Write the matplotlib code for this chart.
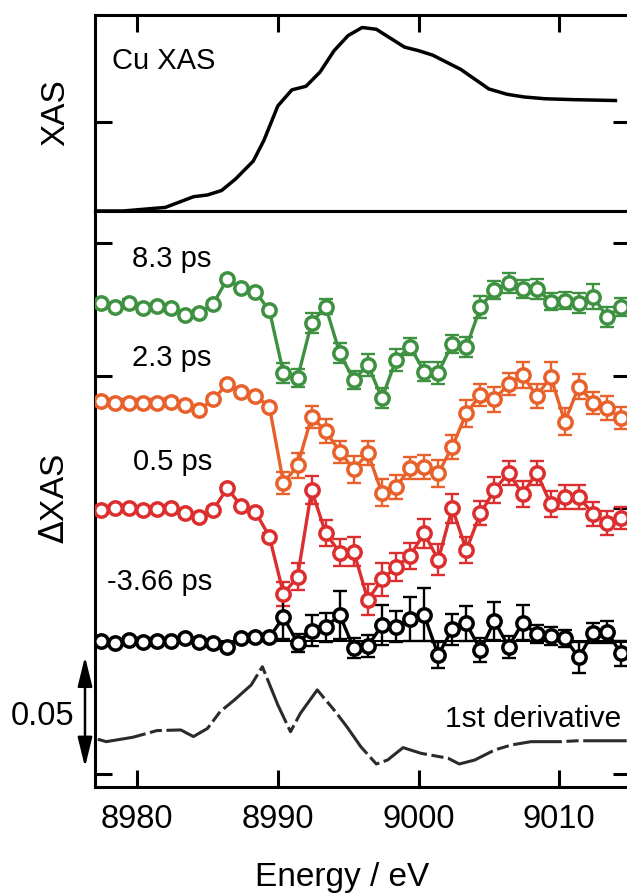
import matplotlib
matplotlib.use('Agg')
import matplotlib.pyplot as plt
from matplotlib.ticker import NullFormatter

plt.rcParams['font.family'] = ['Liberation Sans', 'DejaVu Sans']

# static Cu K-edge spectrum (arb. units)
xas_energy = [8977, 8979, 8982, 8984, 8985, 8986, 8987, 8988.25, 8989, 8990,
              8991, 8992, 8993, 8994, 8995, 8996, 8997, 8998, 8999, 9000,
              9001, 9002, 9003, 9004, 9005, 9006.3, 9007.5, 9009, 9011, 9014]
xas = [0.0, 0.0, 0.04, 0.16, 0.18, 0.23, 0.36, 0.56, 0.79, 1.18,
       1.36, 1.40, 1.56, 1.80, 1.97, 2.06, 2.04, 1.94, 1.84, 1.80,
       1.75, 1.67, 1.59, 1.48, 1.37, 1.31, 1.28, 1.26, 1.25, 1.24]

# transient energy grid (eV)
energy = [8977.4, 8978.4, 8979.4, 8980.4, 8981.4, 8982.4, 8983.4, 8984.4,
          8985.4, 8986.4, 8987.4, 8988.4, 8989.4, 8990.4, 8991.4, 8992.4,
          8993.4, 8994.4, 8995.4, 8996.4, 8997.4, 8998.4, 8999.4, 9000.4,
          9001.4, 9002.4, 9003.4, 9004.4, 9005.4, 9006.4, 9007.4, 9008.4,
          9009.4, 9010.4, 9011.4, 9012.4, 9013.4, 9014.4]

# delta XAS (x 1e-3), relative to each trace's offset
d_83 = [0.0, -1.8, 0.3, -2.3, -1.2, -2.3, -5.3, -4.5, -0.3, 10.9,
        6.8, 5.2, -3.3, -31.7, -33.9, -8.8, -1.5, -22.6, -34.7, -27.9,
        -43.0, -25.6, -19.6, -30.9, -31.4, -18.4, -19.9, -1.8, 6.0, 9.3,
        6.5, 6.5, 0.7, 1.2, 0.0, 3.0, -6.1, -1.8]
d_23 = [0.0, -0.9, -0.9, -0.9, -0.9, -0.5, -1.9, -4.2, 0.6, 7.5,
        4.0, 2.2, -2.7, -37.3, -29.3, -7.4, -13.7, -23.0, -31.0, -23.8,
        -41.6, -38.9, -30.6, -29.9, -32.9, -20.8, -5.7, 2.6, 0.6, 7.5,
        11.6, 2.1, 10.8, -9.5, 6.4, -0.9, -3.4, -7.9]
d_05 = [0.0, 0.8, 0.8, 0.0, 0.3, 0.8, -1.5, -3.0, 0.0, 9.8,
        1.8, -0.8, -12.1, -38.0, -30.2, 9.0, -10.5, -19.3, -18.9, -40.7,
        -31.4, -25.8, -20.8, -10.5, -22.6, 0.8, -18.1, -1.5, 9.0, 16.8,
        7.2, 16.8, 2.7, 6.0, 6.0, -1.8, -6.0, -3.8]
d_m366 = [0.1, -0.8, 0.5, -0.3, 0.1, 0.1, 1.2, -0.3, -1.0, -2.6,
          1.2, 1.7, 1.7, 10.8, -0.8, 4.7, 6.2, 11.8, -3.3, -2.3,
          7.2, 6.4, 9.8, 11.8, -6.3, 5.3, 8.0, -4.1, 9.1, -2.6,
          8.3, 3.2, 2.3, 1.2, -7.4, 3.8, 4.2, -5.6]

e_83 = [1.5] * 13 + [4.5, 4.0, 4.5, 3.5, 4.5, 4.0, 5.0, 4.5, 5.0, 4.0, 4.5,
                     5.0, 4.0, 4.5, 5.0, 4.0, 4.5, 4.0, 4.5, 4.0, 4.0, 4.5,
                     5.5, 4.5, 4.0]
e_23 = [1.5] * 13 + [5.0, 5.5, 5.0, 5.5, 5.0, 6.0, 5.5, 6.0, 5.5, 5.0, 5.5,
                     6.0, 5.5, 6.0, 5.0, 5.5, 5.0, 6.0, 5.5, 6.5, 6.0, 5.5,
                     5.0, 5.5, 5.0]
e_05 = [1.5] * 13 + [5.5, 6.0, 6.5, 6.0, 6.0, 6.5, 7.0, 7.5, 6.5, 6.0, 6.5,
                     7.0, 6.5, 6.0, 5.5, 6.0, 5.5, 6.0, 5.5, 6.0, 5.5, 5.5,
                     5.5, 5.5, 5.0]
e_m366 = [1.5] * 13 + [10.0, 4.0, 7.0, 6.5, 11.0, 4.5, 5.0, 9.0, 7.0, 10.0,
                       12.0, 6.0, 7.0, 8.0, 5.5, 8.5, 5.0, 8.0, 4.0, 4.0,
                       4.0, 7.0, 4.5, 5.0, 5.5]

delays = ['8.3 ps', '2.3 ps', '0.5 ps', '-3.66 ps']
offsets = [212.8, 168.7, 119.3, 60.0]
colors = ['#3d9140', '#e8602a', '#dc2e2e', 'black']

# first derivative of the static spectrum (scaled, x 1e-3)
deriv_energy = [8977.2, 8977.8, 8979.7, 8981.4, 8983.1, 8984.0, 8985.0, 8985.9,
                8986.9, 8988.1, 8988.9, 8990.0, 8990.9, 8991.6, 8992.8, 8994.0,
                8994.9, 8995.9, 8997.0, 8997.8, 8998.9, 9000.2, 9002.1, 9002.9,
                9004.0, 9005.4, 9006.6, 9008.0, 9010.1, 9011.3, 9014.8]
deriv = [0.6, -0.5, 1.5, 4.5, 4.8, 1.8, 5.5, 13.1, 18.3, 25.1, 33.4, 16.1,
         4.0, 12.3, 22.9, 13.8, 6.3, -2.8, -10.6, -8.8, -3.2, -5.8, -8.0,
         -10.6, -8.8, -4.3, -2.0, -0.5, -0.5, -0.1, -0.1]
deriv_offset = 15.0

fig = plt.figure(figsize=(6.27, 8.94), dpi=100)
ax1 = fig.add_axes([0.1515, 0.764, 0.8525, 0.2192])
ax2 = fig.add_axes([0.1515, 0.1197, 0.8525, 0.6443], sharex=ax1)

for ax in (ax1, ax2):
    for sp in ax.spines.values():
        sp.set_linewidth(2.2)
    ax.tick_params(direction='in', length=12, width=2.2, labelsize=23.5, pad=12)

# top panel
ax1.plot(xas_energy, xas, color='black', lw=2.5)
ax1.set_ylim(0, 2.2)
ax1.set_yticks([1.0])
ax1.yaxis.set_major_formatter(NullFormatter())
ax1.tick_params(axis='x', bottom=False, top=True, labelbottom=False)
ax1.tick_params(axis='y', left=True, right=True)
ax1.set_ylabel('XAS', fontsize=24)
ax1.yaxis.set_label_coords(-0.045, 0.5)
ax1.text(0.032, 0.727, 'Cu XAS', transform=ax1.transAxes, fontsize=21,
         ha='left', va='baseline')

# bottom panel
traces = [d_83, d_23, d_05, d_m366]
errs = [e_83, e_23, e_05, e_m366]
ax2.axhline(offsets[3], color='black', lw=1.5, zorder=1)
for vals, err, off, c in zip(traces, errs, offsets, colors):
    y = [v + off for v in vals]
    ax2.errorbar(energy, y, yerr=err, fmt='none', ecolor=c, elinewidth=1.7,
                 capsize=4.7, capthick=1.7, zorder=2)
    ax2.plot(energy, y, '-o', color=c, lw=2.4, ms=9.6, mew=2.5, mfc='white',
             zorder=3)

ax2.plot(deriv_energy, [v + deriv_offset for v in deriv], color='#2b2b2b',
         lw=2.2, linestyle=(0, (16, 1.5, 4, 1.5)))

label_pos = [(0.069, 0.903), (0.069, 0.731), (0.071, 0.550), (0.0225, 0.342)]
for (tx, ty), lab in zip(label_pos, delays):
    ax2.text(tx, ty, lab, transform=ax2.transAxes, fontsize=21,
             ha='left', va='baseline')
ax2.text(0.655, 0.1047, '1st derivative', transform=ax2.transAxes,
         fontsize=21.5, ha='left', va='baseline')

ax2.set_xlim(8977, 9015)
ax2.set_ylim(-6, 254.5)
ax2.set_xticks([8980, 8990, 9000, 9010])
ax2.set_yticks([0, 60, 120, 180, 240])
ax2.yaxis.set_major_formatter(NullFormatter())
ax2.tick_params(axis='y', left=True, right=True)
ax2.set_ylabel(r'$\Delta$XAS', fontsize=24)
ax2.yaxis.set_label_coords(-0.045, 0.5)
ax2.set_xlabel('Energy / eV', fontsize=24)
ax2.xaxis.set_label_coords(0.463, -0.13)

# 0.05 scale bar
ax2.annotate('', xy=(-0.0187, 53), xytext=(-0.0187, 3),
             xycoords=('axes fraction', 'data'),
             textcoords=('axes fraction', 'data'),
             arrowprops=dict(arrowstyle='<|-|>,head_length=0.9,head_width=0.22',
                             color='black', lw=1.8, shrinkA=0, shrinkB=0,
                             mutation_scale=20),
             annotation_clip=False)
ax2.text(-0.099, 0.123, '0.05', transform=ax2.transAxes, fontsize=23.5,
         ha='center', va='center')

fig.savefig('out.png', dpi=100)
